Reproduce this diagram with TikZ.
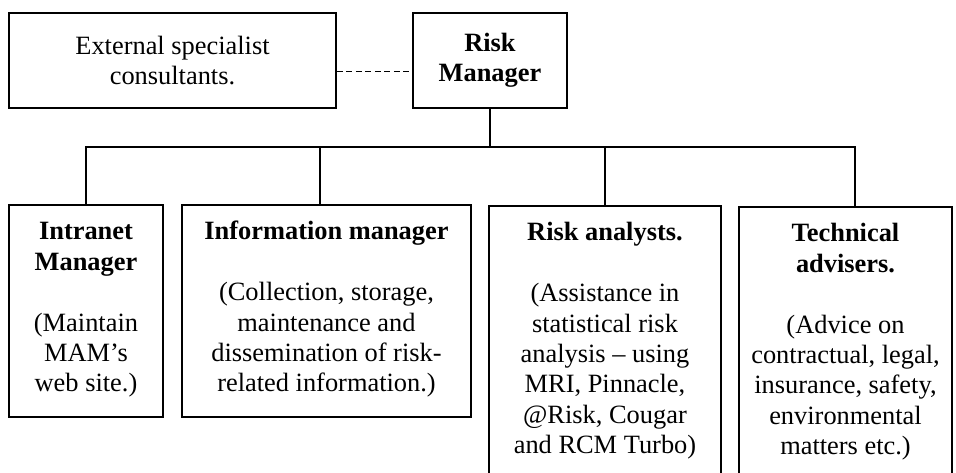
\documentclass[tikz,border=0pt]{standalone}
\usepackage{fontspec}
\setmainfont{Liberation Serif}
\usetikzlibrary{positioning}
% a staff box: height, width, text (first baseline 35pt below the top)
\newcommand{\staffbox}[3]{\parbox[t][#1][t]{#2}{\centering\rule{0pt}{35pt}#3}}

\begin{document}
\begin{tikzpicture}[x=1pt,y=-1pt,
  box/.style={draw,line width=1.7pt,inner xsep=0pt,align=center,font=\fontsize{26.4}{30.4}\selectfont},
  unit/.style={draw,line width=1.7pt,inner sep=0pt,anchor=north,font=\fontsize{26.4}{30.4}\selectfont},
  link/.style={line width=1.7pt}]
 \useasboundingbox (0,0) rectangle (956,473);
 % top row
 \node[box,minimum width=327,minimum height=95] (ext) at (172.5,60.5) {External specialist\\consultants.};
 \node[box,minimum width=154,minimum height=95] (rm) at (490,60.5) {\textbf{Risk}\\\textbf{Manager}};
 \draw[link,line width=1.2pt,dash pattern=on 6pt off 3.5pt] ([yshift=-11pt]ext.east) -- ([yshift=-11pt]rm.west);
 % staff row
 \node[unit] (intr) at (86,204)
  {\staffbox{212pt}{154pt}{\textbf{Intranet}\\\textbf{Manager}\\[30.4pt](Maintain\\MAM’s\\web site.)}};
 \node[unit] (info) at (326.5,204)
  {\staffbox{212pt}{289pt}{\textbf{Information manager}\\[30.4pt](Collection, storage,\\maintenance and\\dissemination of risk-\\related information.)}};
 \node[unit] (risk) at (605,205)
  {\staffbox{280pt}{232pt}{\textbf{Risk analysts.}\\[30.4pt](Assistance in\\statistical risk\\analysis – using\\MRI, Pinnacle,\\@Risk, Cougar\\and RCM Turbo)}};
 \node[unit] (tech) at (845.5,206)
  {\staffbox{280pt}{213pt}{\textbf{Technical}\\\textbf{advisers.}\\[30.4pt](Advice on\\contractual, legal,\\insurance, safety,\\environmental\\matters etc.)}};
 % reporting lines
 \coordinate (bus) at (492,147);
 \draw[link] (rm.south) -- (rm.south |- bus);
 \draw[link] (intr.north) |- ([xshift=9.5pt]tech.north |- bus) -- ([xshift=9.5pt]tech.north);
 \draw[link] ([xshift=-6.5pt]info.north) -- ([xshift=-6.5pt]info.north |- bus);
 \draw[link] (risk.north) -- (risk.north |- bus);
\end{tikzpicture}
\end{document}
